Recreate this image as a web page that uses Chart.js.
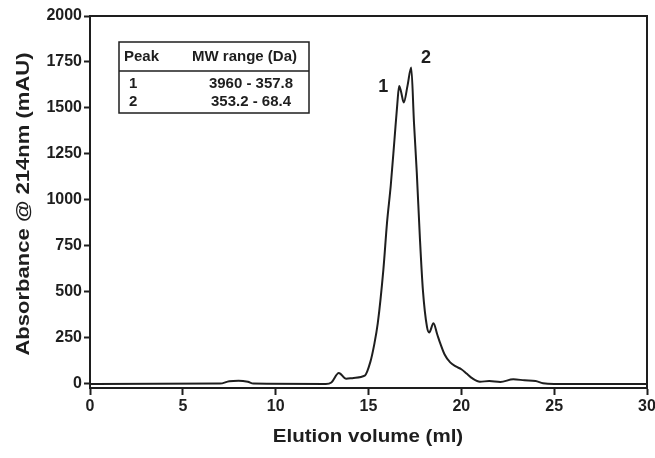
<!DOCTYPE html>
<html>
<head>
<meta charset="utf-8">
<script src="https://cdn.jsdelivr.net/npm/chart.js@4/dist/chart.umd.min.js"></script>
<style>
  html, body { margin: 0; padding: 0; background: #fff; }
  #wrap { width: 655px; height: 458px; }
</style>
</head>
<body>
<div id="wrap"><canvas id="sec"></canvas></div>
<script>
// --- data ---
const elutionVolume = [0, 7.0, 7.5, 8.0, 8.5, 8.8, 12.7, 13.0, 13.4, 13.8, 14.2, 14.8, 15.1, 15.3, 15.5, 15.8, 16.0, 16.2, 16.4, 16.55, 16.65, 16.75, 16.9, 17.1, 17.3, 17.45, 17.6, 17.77, 17.93, 18.15, 18.27, 18.5, 18.7, 18.85, 19.1, 19.4, 19.7, 20.0, 20.3, 20.6, 21.0, 21.5, 22.1, 22.8, 23.4, 24.0, 24.4, 25.0, 30];
const absorbance    = [0, 2, 15, 18, 12, 2, 0, 8, 60, 28, 33, 45, 120, 210, 330, 620, 880, 1080, 1330, 1520, 1620, 1590, 1530, 1620, 1720, 1420, 1150, 790, 510, 310, 280, 330, 270, 225, 160, 117, 95, 80, 55, 30, 12, 16, 11, 25, 20, 16, 4, 0, 0];

const yTickValues = [0, 250, 500, 750, 1000, 1250, 1500, 1750, 2000];
const xTickValues = [0, 5, 10, 15, 20, 25, 30];

const xTitle = 'Elution volume (ml)';
const yTitle = 'Absorbance @ 214nm (mAU)';

const peakLabels = ['1', '2'];
const peakLabelX = [15.8, 18.1];
const peakLabelY = [1614, 1772];

const tableHeader = ['Peak', 'MW range (Da)'];
const tablePeaks = ['1', '2'];
const tableRanges = ['3960 - 357.8', '353.2 - 68.4'];

const FONT = '"Liberation Sans", Arial, Helvetica, sans-serif';
const INK = '#1e1e1e';

const points = elutionVolume.map((v, i) => ({ x: v, y: absorbance[i] }));

// text drawn a little wider than the font, like the original artwork
function wideText(ctx, text, x, y, size, stretch, angle) {
  ctx.save();
  ctx.translate(x, y);
  if (angle) ctx.rotate(angle);
  ctx.scale(stretch, 1);
  ctx.font = 'bold ' + size + 'px ' + FONT;
  ctx.textAlign = 'center';
  ctx.textBaseline = 'middle';
  ctx.fillText(text, 0, 0);
  ctx.restore();
}

// frame, axis titles, peak numbers and the MW table
const extras = {
  id: 'extras',
  afterDraw(chart) {
    const ctx = chart.ctx;
    const a = chart.chartArea;
    const xs = chart.scales.x, ys = chart.scales.y;
    ctx.save();
    ctx.strokeStyle = INK;
    ctx.fillStyle = INK;
    ctx.lineWidth = 2;
    ctx.beginPath();
    ctx.moveTo(a.left, a.top);
    ctx.lineTo(a.right, a.top);
    ctx.lineTo(a.right, a.bottom);
    ctx.stroke();

    wideText(ctx, xTitle, 368, 437, 19, 1.08, 0);
    wideText(ctx, yTitle, 24, 204, 19, 1.16, -Math.PI / 2);

    ctx.font = 'bold 18px ' + FONT;
    ctx.textAlign = 'center';
    ctx.textBaseline = 'middle';
    peakLabels.forEach((t, i) => {
      ctx.fillText(t, xs.getPixelForValue(peakLabelX[i]), ys.getPixelForValue(peakLabelY[i]));
    });

    // table box
    const bx = 119, by = 42, bw = 190, bh = 71;
    ctx.lineWidth = 1.5;
    ctx.strokeRect(bx, by, bw, bh);
    ctx.beginPath();
    ctx.moveTo(bx, 71);
    ctx.lineTo(bx + bw, 71);
    ctx.stroke();
    ctx.font = 'bold 15px ' + FONT;
    ctx.textAlign = 'left';
    ctx.fillText(tableHeader[0], 124, 57);
    ctx.fillText(tableHeader[1], 192, 57);
    const rowY = [84, 102];
    tablePeaks.forEach((p, i) => {
      ctx.textAlign = 'left';
      ctx.fillText(p, 129, rowY[i]);
      ctx.textAlign = 'center';
      ctx.fillText(tableRanges[i], 251, rowY[i]);
    });
    ctx.restore();
  }
};

new Chart(document.getElementById('sec'), {
  type: 'line',
  data: {
    datasets: [{
      data: points,
      borderColor: INK,
      borderWidth: 2,
      pointRadius: 0,
      fill: false,
      cubicInterpolationMode: 'monotone'
    }]
  },
  options: {
    responsive: true,
    maintainAspectRatio: false,
    animation: false,
    layout: { padding: { top: 16, right: 8, left: 0, bottom: 0 } },
    plugins: { legend: { display: false }, tooltip: { enabled: false } },
    scales: {
      x: {
        type: 'linear',
        min: 0, max: 30,
        afterBuildTicks: s => { s.ticks = xTickValues.map(v => ({ value: v })); },
        afterFit: s => { s.height = 70; s.paddingLeft = 0; s.paddingRight = 0; },
        grid: { display: true, drawOnChartArea: false, drawTicks: true, tickLength: 7, tickWidth: 2, color: INK },
        border: { display: true, width: 2, color: INK },
        ticks: { color: INK, font: { family: FONT, weight: 'bold', size: 16 }, padding: 2, maxRotation: 0, callback: v => String(v) }
      },
      y: {
        type: 'linear',
        min: -22, max: 2000,
        afterBuildTicks: s => { s.ticks = yTickValues.map(v => ({ value: v })); },
        afterFit: s => { s.width = 90; },
        grid: { display: true, drawOnChartArea: false, drawTicks: true, tickLength: 6, tickWidth: 2, color: INK },
        border: { display: true, width: 2, color: INK },
        ticks: { color: INK, font: { family: FONT, weight: 'bold', size: 16 }, padding: 2, callback: v => String(v) }
      }
    }
  },
  plugins: [extras]
});
</script>
</body>
</html>
